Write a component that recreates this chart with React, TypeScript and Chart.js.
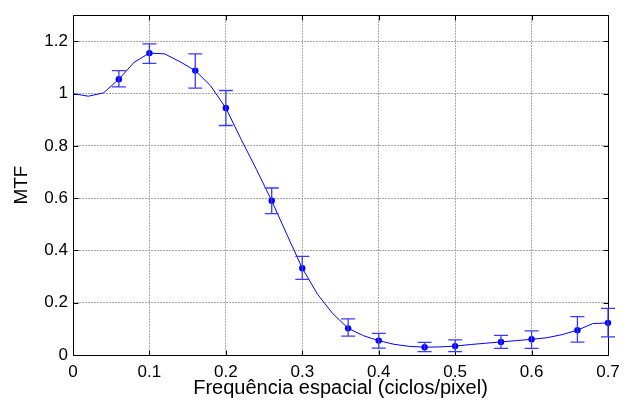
import React, { useEffect, useRef } from "react";
import { Chart, registerables } from "chart.js";

Chart.register(...registerables);

// Smooth fitted MTF curve (sampled every 0.02 cycles/pixel)
const curveX = [0, 0.02, 0.04, 0.06, 0.08, 0.1, 0.12, 0.14, 0.16, 0.18, 0.2, 0.22, 0.24, 0.26, 0.28, 0.3, 0.32, 0.34, 0.36, 0.38, 0.4, 0.42, 0.44, 0.46, 0.48, 0.5, 0.52, 0.54, 0.56, 0.58, 0.6, 0.62, 0.64, 0.66, 0.68, 0.7];
const curveY = [1.0, 0.99, 1.003, 1.055, 1.12, 1.155, 1.152, 1.122, 1.088, 1.03, 0.945, 0.825, 0.71, 0.59, 0.46, 0.332, 0.232, 0.158, 0.102, 0.074, 0.055, 0.041, 0.033, 0.03, 0.031, 0.034, 0.04, 0.045, 0.05, 0.055, 0.06, 0.066, 0.078, 0.095, 0.12, 0.123];

// Measured points with error bars
const measX = [0.06, 0.1, 0.16, 0.2, 0.26, 0.3, 0.36, 0.4, 0.46, 0.5, 0.56, 0.6, 0.66, 0.7];
const measY = [1.055, 1.155, 1.088, 0.945, 0.59, 0.332, 0.102, 0.055, 0.03, 0.034, 0.05, 0.06, 0.095, 0.123];
const errLow = [1.026, 1.116, 1.021, 0.878, 0.541, 0.289, 0.072, 0.026, 0.013, 0.013, 0.025, 0.025, 0.049, 0.069];
const errHigh = [1.088, 1.19, 1.152, 1.012, 0.639, 0.377, 0.138, 0.083, 0.048, 0.058, 0.075, 0.092, 0.147, 0.178];

const xTicks = [0, 0.1, 0.2, 0.3, 0.4, 0.5, 0.6, 0.7];
const yTicks = [0, 0.2, 0.4, 0.6, 0.8, 1.0, 1.2];

const xTitle = "Frequência espacial (ciclos/pixel)";
const yTitle = "MTF";

const FONT = "'Liberation Sans', Arial, sans-serif";
const BLUE = "#0000ff";
const BAR_BLUE = "#3b3bff";
const GRID = "#a6a6a6";

const boxPlugin = {
  id: "matlabBox",
  beforeDatasetsDraw(chart: any) {
    const { ctx, chartArea } = chart;
    const xs = chart.scales.x;
    const ys = chart.scales.y;
    const l = Math.round(chartArea.left) + 0.5;
    const r = Math.round(chartArea.right) + 0.5;
    const t = Math.round(chartArea.top) + 0.5;
    const b = Math.round(chartArea.bottom) + 0.5;
    const tl = 5;
    ctx.save();
    ctx.strokeStyle = "#000";
    ctx.lineWidth = 1;
    ctx.setLineDash([]);
    ctx.beginPath();
    ctx.rect(l, t, r - l, b - t);
    xTicks.forEach((v) => {
      const px = Math.round(xs.getPixelForValue(v)) + 0.5;
      ctx.moveTo(px, b);
      ctx.lineTo(px, b - tl);
      ctx.moveTo(px, t);
      ctx.lineTo(px, t + tl);
    });
    yTicks.forEach((v) => {
      const py = Math.round(ys.getPixelForValue(v)) + 0.5;
      ctx.moveTo(l, py);
      ctx.lineTo(l + tl, py);
      ctx.moveTo(r, py);
      ctx.lineTo(r - tl, py);
    });
    ctx.stroke();
    ctx.restore();
  },
  afterDatasetsDraw(chart: any) {
    const { ctx } = chart;
    const xs = chart.scales.x;
    const ys = chart.scales.y;
    const cap = 7;
    ctx.save();
    ctx.strokeStyle = BAR_BLUE;
    ctx.lineWidth = 1.3;
    ctx.setLineDash([]);
    ctx.beginPath();
    measX.forEach((xv, i) => {
      const px = xs.getPixelForValue(xv);
      const pLo = ys.getPixelForValue(errLow[i]);
      const pHi = ys.getPixelForValue(errHigh[i]);
      ctx.moveTo(px, pLo);
      ctx.lineTo(px, pHi);
      ctx.moveTo(px - cap, pLo);
      ctx.lineTo(px + cap, pLo);
      ctx.moveTo(px - cap, pHi);
      ctx.lineTo(px + cap, pHi);
    });
    ctx.stroke();
    ctx.restore();
  },
};

export default function App() {
  const ref = useRef<HTMLCanvasElement | null>(null);

  useEffect(() => {
    document.body.style.margin = "0";
    const canvas = ref.current;
    if (!canvas) return;
    const chart = new Chart(canvas, {
      type: "line",
      data: {
        datasets: [
          {
            label: "curve",
            data: curveX.map((x, i) => ({ x, y: curveY[i] })),
            borderColor: BLUE,
            borderWidth: 1,
            pointRadius: 0,
            tension: 0,
            fill: false,
            clip: false as any,
          },
          {
            label: "measured",
            data: measX.map((x, i) => ({ x, y: measY[i] })),
            showLine: false,
            pointRadius: 3.2,
            pointBackgroundColor: BLUE,
            pointBorderColor: BLUE,
            pointBorderWidth: 0,
            clip: false as any,
          },
        ],
      },
      options: {
        responsive: false,
        animation: false,
        devicePixelRatio: 1,
        layout: { padding: { top: 10, right: 25, left: 0, bottom: 0 } },
        plugins: {
          legend: { display: false },
          tooltip: { enabled: false },
        },
        scales: {
          x: {
            type: "linear",
            min: 0,
            max: 0.7,
            afterBuildTicks: (s: any) => {
              s.ticks = xTicks.map((v) => ({ value: v }));
            },
            afterFit: (s: any) => {
              s.height = 52;
            },
            ticks: {
              color: "#000",
              padding: 7,
              font: { family: FONT, size: 17 },
              callback: (v: any) => String(Math.round(Number(v) * 10) / 10),
            },
            grid: {
              color: (c: any) => (c.tick && (c.tick.value === 0 || c.tick.value === 0.7) ? "rgba(0,0,0,0)" : GRID),
              lineWidth: 1,
              drawTicks: false,
            },
            border: { display: false, dash: [2, 1] },
            title: {
              display: true,
              text: xTitle,
              color: "#000",
              font: { family: FONT, size: 20 },
              padding: { top: 0, bottom: 7 },
            },
          },
          y: {
            type: "linear",
            min: 0,
            max: 1.3,
            afterBuildTicks: (s: any) => {
              s.ticks = yTicks.map((v) => ({ value: v }));
            },
            afterFit: (s: any) => {
              s.width = 73;
            },
            ticks: {
              color: "#000",
              padding: 5,
              font: { family: FONT, size: 17 },
              callback: (v: any) => String(Math.round(Number(v) * 10) / 10),
            },
            grid: {
              color: (c: any) => (c.tick && c.tick.value === 0 ? "rgba(0,0,0,0)" : GRID),
              lineWidth: 1,
              drawTicks: false,
            },
            border: { display: false, dash: [2, 1] },
            title: {
              display: true,
              text: yTitle,
              color: "#000",
              font: { family: FONT, size: 19 },
              padding: { top: 10, bottom: 0 },
            },
          },
        },
      },
      plugins: [boxPlugin],
    });
    return () => chart.destroy();
  }, []);

  return (
    <div style={{ width: 633, height: 407, background: "#fff" }}>
      <canvas ref={ref} width={633} height={407} style={{ display: "block" }} />
    </div>
  );
}
